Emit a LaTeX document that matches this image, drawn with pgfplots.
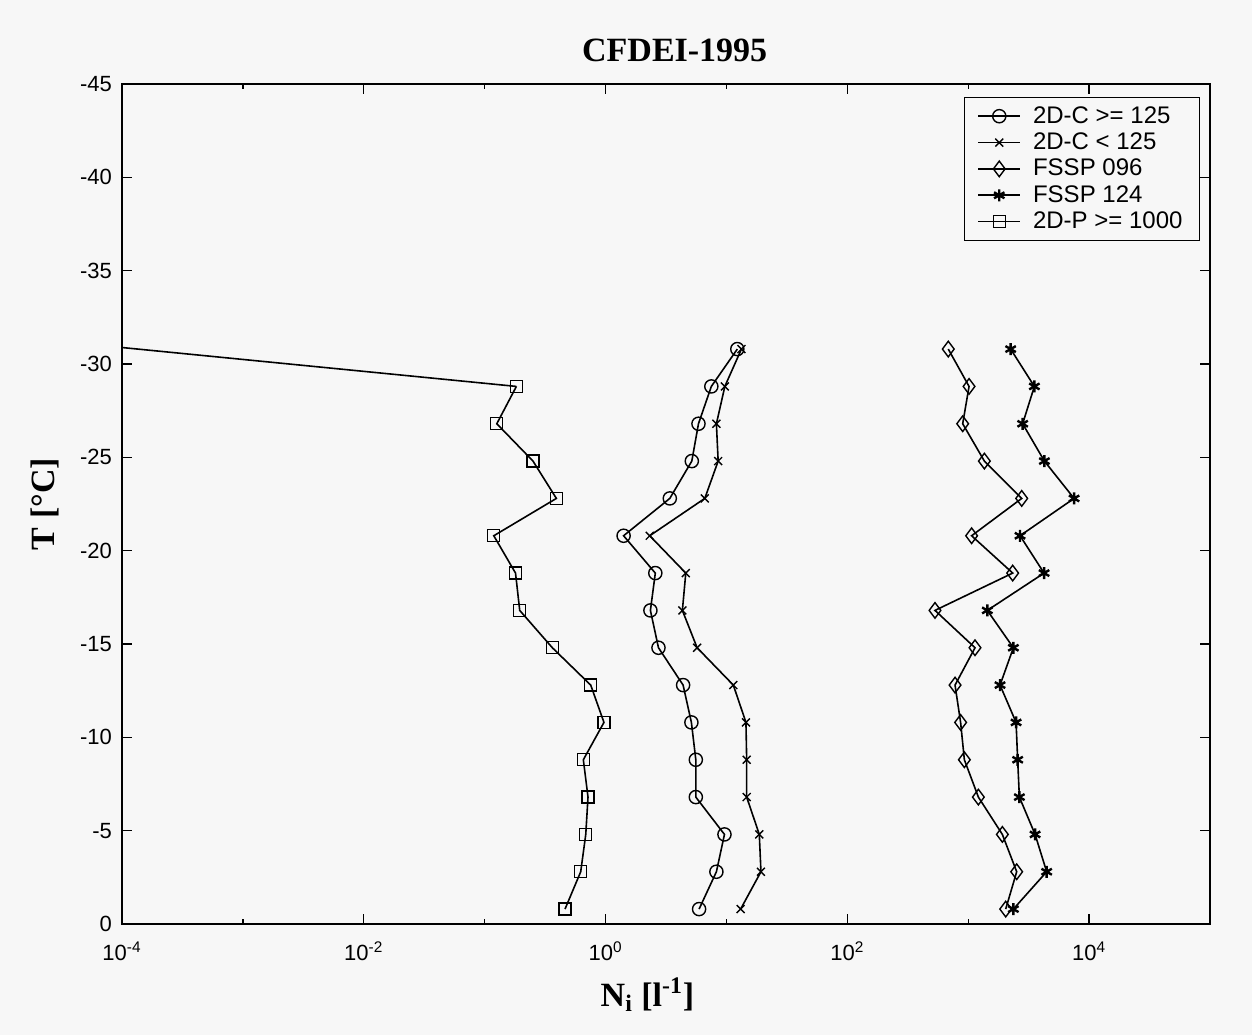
\documentclass[border=0pt]{standalone}
\usepackage{fontspec}
\setmainfont{Liberation Sans}
\newfontfamily\serifb{Liberation Serif}
\usepackage{pgfplots}
\pgfplotsset{compat=1.18}
\begin{document}
\begin{tikzpicture}
\fill[gray!6] (0,0) rectangle (626pt,517.5pt);
\begin{axis}[
  at={(61pt,55.5pt)}, anchor=south west,
  scale only axis, width=544pt, height=420pt,
  xmode=log, xmin=1e-4, xmax=1e5,
  ymin=-45, ymax=0, y dir=reverse,
  ytick={-45,-40,-35,-30,-25,-20,-15,-10,-5,0},
  xtick={1e-4,1e-2,1,1e2,1e4},
  xticklabels={10\textsuperscript{-4},10\textsuperscript{-2},10\textsuperscript{0},10\textsuperscript{2},10\textsuperscript{4}},
  minor xtick={1e-3,1e-1,1e1,1e3},
  tick align=inside, major tick length=5pt, minor tick length=2.5pt,
  axis line style={line width=0.9pt},
  every tick/.style={black, line width=0.7pt},
  /pgf/number format/assume math mode=true,
  tick label style={font=\fontsize{11}{13}\selectfont},
  yticklabel style={xshift=-1.5pt},
  xticklabel style={yshift=-5.5pt},
  title={\serifb\bfseries CFDEI-1995},
  title style={at={(axis description cs:0.508,1.026)}, anchor=center, font=\fontsize{17}{20}\selectfont},
  ylabel={\serifb\bfseries T [°C]},
  ylabel style={at={(axis description cs:-0.0708,0.5)}, anchor=center, font=\fontsize{17}{20}\selectfont},
  xlabel={\serifb\bfseries N\textsubscript{i} [l\textsuperscript{-1}]},
  xlabel style={at={(axis description cs:0.483,-0.0845)}, anchor=center, font=\fontsize{17}{20}\selectfont},
  legend style={at={(axis description cs:0.991,0.985)}, anchor=north east, draw=black, line width=0.7pt, fill=gray!6, font=\fontsize{12}{14}\selectfont, row sep=-0.7pt, inner ysep=2.5pt, inner xsep=6.5pt,
    /tikz/every odd column/.append style={column sep=4pt}},
  legend cell align=left,
  legend image code/.code={\draw[mark repeat=2,mark phase=2] plot coordinates {(0pt,0pt) (10.5pt,0pt) (21pt,0pt)};},
  every axis plot/.append style={black, line width=0.8pt, mark options={solid, line width=0.7pt}},
]
\addplot[mark=o, mark size=3.3pt] coordinates {
(12.3,-30.8) (7.5,-28.8) (5.87,-26.8) (5.17,-24.8) (3.40,-22.8) (1.41,-20.8) (2.58,-18.8) (2.35,-16.8)
(2.74,-14.8) (4.38,-12.8) (5.13,-10.8) (5.58,-8.8) (5.58,-6.8) (9.63,-4.8) (8.26,-2.8) (5.94,-0.8)};
\addlegendentry{2D-C >= 125}
\addplot[mark=x, mark size=2.8pt] coordinates {
(13.3,-30.8) (9.7,-28.8) (8.26,-26.8) (8.54,-24.8) (6.62,-22.8) (2.32,-20.8) (4.61,-18.8) (4.32,-16.8)
(5.72,-14.8) (11.4,-12.8) (14.5,-10.8) (14.7,-8.8) (14.7,-6.8) (18.7,-4.8) (19.3,-2.8) (13.1,-0.8)};
\addlegendentry{2D-C < 125}
\addplot[mark=diamond, mark size=3.9pt] coordinates {
(684,-30.8) (1016,-28.8) (900,-26.8) (1360,-24.8) (2770,-22.8) (1067,-20.8) (2333,-18.8) (531,-16.8)
(1138,-14.8) (778,-12.8) (865,-10.8) (929,-8.8) (1213,-6.8) (1916,-4.8) (2517,-2.8) (2042,-0.8)};
\addlegendentry{FSSP 096}
\addplot[mark=asterisk, mark size=3pt, mark options={solid, line width=1.2pt}] coordinates {
(2244,-30.8) (3525,-28.8) (2820,-26.8) (4266,-24.8) (7510,-22.8) (2683,-20.8) (4240,-18.8) (1438,-16.8)
(2363,-14.8) (1833,-12.8) (2488,-10.8) (2564,-8.8) (2649,-6.8) (3573,-4.8) (4456,-2.8) (2363,-0.8)};
\addlegendentry{FSSP 124}
\addplot[mark=square, mark size=3pt] coordinates {
(0.183,-28.8) (0.126,-26.8) (0.251,-24.8) (0.392,-22.8) (0.119,-20.8) (0.180,-18.8) (0.195,-16.8)
(0.363,-14.8) (0.754,-12.8) (0.97,-10.8) (0.655,-8.8) (0.716,-6.8) (0.686,-4.8) (0.623,-2.8) (0.462,-0.8)};
\addlegendentry{2D-P >= 1000}
\addplot[no marks, forget plot] coordinates {(1e-7,-32.8) (0.183,-28.8)};
\end{axis}
\end{tikzpicture}
\end{document}
